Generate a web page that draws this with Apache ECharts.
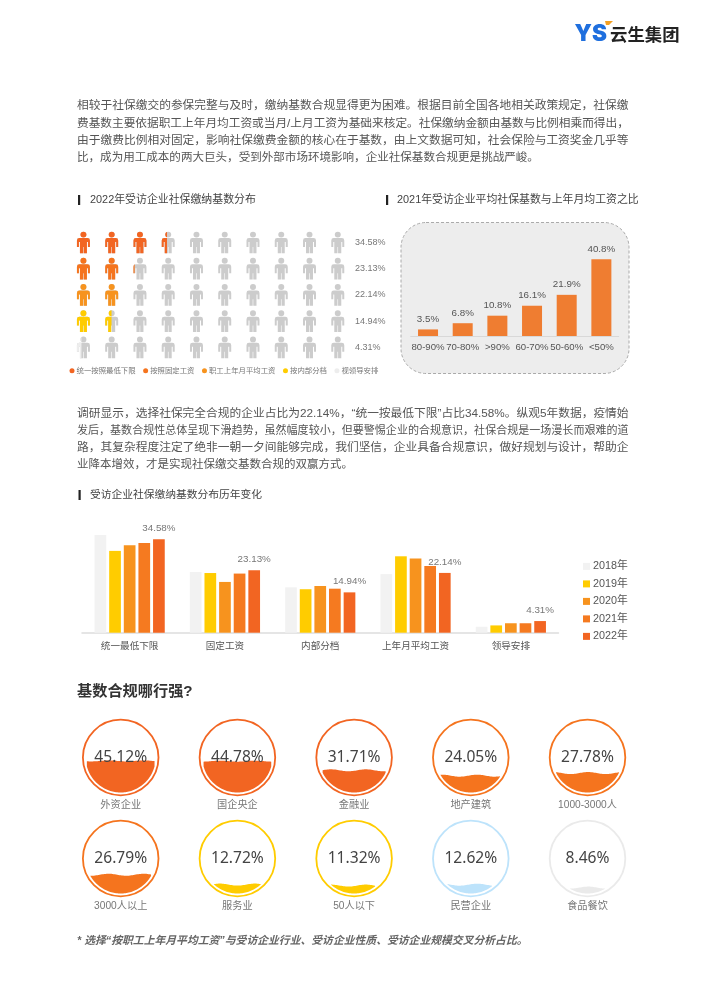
<!DOCTYPE html>
<html><head><meta charset="utf-8">
<style>html,body{margin:0;padding:0;background:#fff}#c{width:710px;height:1004px}</style>
<script src="https://cdn.jsdelivr.net/npm/echarts@6/dist/echarts.min.js"></script>
</head><body><div id="c"></div>
<script>
const FF = '"Liberation Sans","Noto Sans CJK SC",sans-serif';
const FN = '"Noto Sans","Noto Sans CJK SC",sans-serif';

// paragraph lines
const para1 = [
 '相较于社保缴交的参保完整与及时，缴纳基数合规显得更为困难。根据目前全国各地相关政策规定，社保缴',
 '费基数主要依据职工上年月均工资或当月/上月工资为基础来核定。社保缴纳金额由基数与比例相乘而得出，',
 '由于缴费比例相对固定，影响社保缴费金额的核心在于基数，由上文数据可知，社会保险与工资奖金几乎等',
 '比，成为用工成本的两大巨头，受到外部市场环境影响，企业社保基数合规更是挑战严峻。'];
const para2 = [
 '调研显示，选择社保完全合规的企业占比为22.14%，“统一按最低下限”占比34.58%。纵观5年数据，疫情始',
 '发后，基数合规性总体呈现下滑趋势，虽然幅度较小，但要警惕企业的合规意识，社保合规是一场漫长而艰难的道',
 '路，其复杂程度注定了绝非一朝一夕间能够完成，我们坚信，企业具备合规意识，做好规划与设计，帮助企',
 '业降本增效，才是实现社保缴交基数合规的双赢方式。'];
const footnote = '* 选择“按职工上年月平均工资”与受访企业行业、受访企业性质、受访企业规模交叉分析占比。';

// pictogram
const pictoNames = ['统一按照最低下限','按照固定工资','职工上年月平均工资','按内部分档','视领导安排'];
const pictoValues = [34.58,23.13,22.14,14.94,4.31];
const pictoLabels = ['34.58%','23.13%','22.14%','14.94%','4.31%'];
const pictoColors = ['#F26522','#F5741E','#F7931E','#FFCC00','#EDEDED'];

// 2021 ratio bars
const ratioCats = ['80-90%','70-80%','>90%','60-70%','50-60%','<50%'];
const ratioVals = [3.5,6.8,10.8,16.1,21.9,40.8];

// yearly bars
const yearCats = ['统一最低下限','固定工资','内部分档','上年月平均工资','领导安排'];
const y2018 = [36.2,22.5,16.8,21.7,2.2];
const y2019 = [30.3,22.1,16.1,28.3,2.7];
const y2020 = [32.4,18.8,17.3,27.5,3.5];
const y2021 = [33.2,21.9,16.3,24.7,3.5];
const y2022 = [34.58,23.13,14.94,22.14,4.31];
const yearNames = ['2018年','2019年','2020年','2021年','2022年'];
const yearColors = ['#F2F2F2','#FFCC00','#F7931E','#F57A20','#F26522'];

// liquid circles
const row1Names = ['外资企业','国企央企','金融业','地产建筑','1000-3000人'];
const row1Vals = [45.12,44.78,31.71,24.05,27.78];
const row1Colors = ['#F26522','#F26522','#F26522','#F5741E','#F5741E'];
const row2Names = ['3000人以上','服务业','50人以下','民营企业','食品餐饮'];
const row2Vals = [26.79,12.72,11.32,12.62,8.46];
const row2Colors = ['#F5741E','#FFCC00','#FFCC00','#BDE3FB','#EAEAEA'];

const personPath = 'path://M6.5 0a3 3 0 1 1 0 6a3 3 0 1 1 0-6z M2.5 6.5h8a2.5 2.5 0 0 1 2.5 2.5v6.5h-2v-5h-1v11.5h-3.2v-6.5h-.6v6.5h-3.2v-11.5h-1v5h-2v-6.5a2.5 2.5 0 0 1 2.5-2.5z';

const chart = echarts.init(document.getElementById('c'),null,{renderer:'canvas'});

const mc = document.createElement('canvas').getContext('2d');
function fit(t, w, fam, pre){ mc.font=(pre||'')+' 20px '+fam; return 20*w/mc.measureText(t).width; }
function line(t,x,y,size,fill,extra,fam){
  return {type:'text',silent:true,style:{text:t,x:x,y:y,fill:fill,verticalAlign:'middle',font:(extra||'')+' '+size.toFixed(2)+'px '+(fam||FF)}};
}
const gfx = [];
const parY1 = [106,123.3,140.6,157.5], parY2 = [413.7,431,448,465.3];
para1.forEach((t,i)=>{ const w=i<3?552:462; gfx.push(line(t,77,parY1[i],fit(t,w,FF),'#555')); });
para2.forEach((t,i)=>{ const w=i<3?552:276; gfx.push(line(t,77,parY2[i],fit(t,w,FF),'#555')); });
// section headings
[[78,195,'2022年受访企业社保缴纳基数分布',90,200,166],[386,195,'2021年受访企业平均社保基数与上年月均工资之比',397,200,242],[78.5,490,'受访企业社保缴纳基数分布历年变化',90,495,172]].forEach(h=>{
  gfx.push({type:'rect',silent:true,shape:{x:h[0],y:h[1],width:2.2,height:10},style:{fill:'#222'}});
  gfx.push(line(h[2],h[3],h[4],fit(h[2],h[5],FF),'#444'));
});
gfx.push(line('基数合规哪行强?',77,691.5,15.2,'#333','bold'));
gfx.push(line(footnote,77,941,fit(footnote,451,FF,'italic bold'),'#666','italic bold'));
// logo
gfx.push(line('YS',574.5,34,22.5,'#1F6FDE','900','Inter,"Liberation Sans"'));
gfx.push(line('云生集团',610,34,17.4,'#222','bold','"Noto Sans CJK SC"'));
gfx.push({type:'polygon',silent:true,shape:{points:[[605,21],[613,21],[609,25],[606,25]]},style:{fill:'#F5A021'}});
// panel behind ratio chart
gfx.push({type:'rect',silent:true,z:-1,shape:{x:401,y:222.5,width:228,height:151,r:25},style:{fill:'#EDEDED',stroke:'#AAAAAA',lineWidth:1,lineDash:[3,2]}});

function waveSeries(xIdx, yIdx, vals, colors){
  return {
    type:'custom', coordinateSystem:'cartesian2d', xAxisIndex:xIdx, yAxisIndex:yIdx, clip:false,
    data: vals.map((v,i)=>[i,v]),
    renderItem(params, api){
      const i = api.value(0), v = api.value(1);
      const color = colors[i];
      const c = api.coord([i,50]);
      const lv = api.coord([i,v])[1];
      const r = api.coord([i,0])[1]-c[1];
      const R = r+2.8;
      const N=60;
      const amp = v>40?0.5:1.0;
      const top=[],bot=[];
      for(let k=0;k<=N;k++){
        const x=-r+2*r*k/N;
        const yw=lv+amp*Math.sin(x/r*Math.PI*2+0.6+i);
        const s=Math.sqrt(Math.max(r*r-x*x,0));
        const yb=c[1]+s;
        if(yw<yb){ top.push([c[0]+x,Math.max(yw,c[1]-s)]); bot.unshift([c[0]+x,yb]); }
      }
      return {type:'group',children:[
        {type:'circle',shape:{cx:c[0],cy:c[1],r:R},style:{fill:'none',stroke:color,lineWidth:1.8}},
        {type:'polygon',shape:{points:top.concat(bot)},style:{fill:color}},
        {type:'text',style:{text:v.toFixed(2)+'%',x:c[0],y:c[1],align:'center',verticalAlign:'middle',fill:'#444',font:'15.6px '+FN}}
      ]};
    }
  };
}

const option = {
  animation:false, backgroundColor:'#fff',
  textStyle:{fontFamily:FF},
  graphic:gfx,
  legend:[
    {data:pictoNames,left:69.5,top:367,padding:0,itemWidth:5,itemHeight:5,itemGap:7.5,icon:'circle',selectedMode:false,
     textStyle:{fontSize:7.4,color:'#777',padding:[0,0,0,-3]}},
    {data:yearNames,left:583,top:561,padding:0,orient:'vertical',itemWidth:7,itemHeight:7,itemGap:6.7,icon:'rect',selectedMode:false,
     textStyle:{fontSize:10.8,color:'#555',padding:[0,0,0,-2]}}
  ],
  grid:[
    {left:69.3,top:229.4,width:282.6,height:131},
    {left:410.7,top:251.4,width:208,height:84.6},
    {left:82,top:524.7,width:476.5,height:108},
    {left:62.35,top:722.5,width:583.5,height:70},
    {left:62.35,top:823.5,width:583.5,height:70}
  ],
  xAxis:[
    {gridIndex:0,type:'value',min:0,max:100,show:false},
    {gridIndex:1,type:'category',data:ratioCats,axisTick:{show:false},axisLine:{lineStyle:{color:'#D8D8D8',width:1}},
     axisLabel:{fontSize:9.6,color:'#555',margin:7,interval:0}},
    {gridIndex:2,type:'category',data:yearCats,axisTick:{show:false},axisLine:{lineStyle:{color:'#DDDDDD',width:1.5}},
     axisLabel:{fontSize:9.6,color:'#555',margin:9,interval:0}},
    {gridIndex:3,type:'category',data:row1Names,axisTick:{show:false},axisLine:{show:false},axisLabel:{fontSize:10.2,color:'#777',margin:8,interval:0}},
    {gridIndex:4,type:'category',data:row2Names,axisTick:{show:false},axisLine:{show:false},axisLabel:{fontSize:10.2,color:'#777',margin:8,interval:0}}
  ],
  yAxis:[
    {gridIndex:0,type:'category',inverse:true,data:pictoLabels,show:false},
    {gridIndex:0,type:'category',inverse:true,position:'right',data:pictoLabels,axisLine:{show:false},axisTick:{show:false},axisLabel:{fontSize:9,color:'#777',margin:3}},
    {gridIndex:1,type:'value',min:0,max:45,show:false},
    {gridIndex:2,type:'value',min:0,max:40,show:false},
    {gridIndex:3,type:'value',min:0,max:100,show:false},
    {gridIndex:4,type:'value',min:0,max:100,show:false}
  ],
  series:[
    {type:'pictorialBar',silent:true,xAxisIndex:0,yAxisIndex:0,symbol:personPath,symbolSize:[13,21.7],symbolRepeat:10,symbolMargin:'0!',symbolBoundingData:100,
     itemStyle:{color:'#CCCCCC'},data:pictoValues.map(()=>100),z:1},
    ...pictoNames.map((n,i)=>({
      name:n,type:'pictorialBar',silent:true,xAxisIndex:0,yAxisIndex:0,symbol:personPath,symbolSize:[13,21.7],symbolRepeat:10,symbolMargin:'0!',symbolBoundingData:100,symbolClip:true,
      itemStyle:{color:pictoColors[i]},z:2,
      data:pictoValues.map((v,j)=>j===i?v:null)
    })),
    {type:'bar',xAxisIndex:1,yAxisIndex:2,barWidth:20,data:ratioVals,itemStyle:{color:'#EF7D31'},
     label:{show:true,position:'top',distance:5.5,fontSize:9.8,color:'#555',formatter:p=>p.value+'%'}},
    ...yearNames.map((n,i)=>({
      name:n,type:'bar',xAxisIndex:2,yAxisIndex:3,barWidth:11.7,barGap:'25%',
      data:[y2018,y2019,y2020,y2021,y2022][i],itemStyle:{color:yearColors[i]},
      label:i===4?{show:true,position:'top',distance:6,fontSize:9.8,color:'#777',formatter:p=>p.value+'%'}:{show:false}
    })),
    waveSeries(3,4,row1Vals,row1Colors),
    waveSeries(4,5,row2Vals,row2Colors)
  ]
};
chart.setOption(option);
</script></body></html>
